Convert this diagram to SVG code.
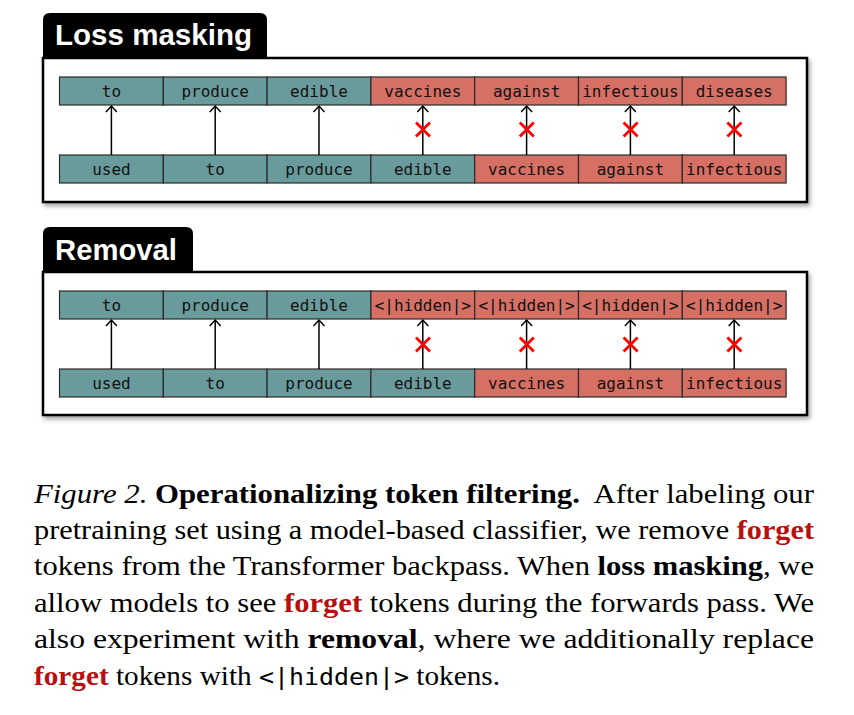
<svg xmlns="http://www.w3.org/2000/svg" width="854" height="715" viewBox="0 0 854 715">
<defs>
<style>
.panel{fill:#fff;stroke:#000;stroke-width:2.5}
.tab{fill:#000}
.tabt{font-family:"Liberation Sans",Arial,sans-serif;font-weight:bold;font-size:29px;fill:#fff}
.k{fill:#6A9B9C;stroke:#2a2a2a;stroke-width:1.2}
.f{fill:#D66F64;stroke:#2a2a2a;stroke-width:1.2}
.tt{font-family:"DejaVu Sans Mono",monospace;font-size:16px;fill:#111;text-anchor:middle}
.ar{stroke:#000;stroke-width:1.5;fill:none}
.x{stroke:#F00;stroke-width:2.8;fill:none}
.cap{font-family:"Liberation Serif","Times New Roman",serif;font-size:27px;fill:#000}
.b{font-weight:bold}
.r{font-weight:bold;fill:#B8100F}
.m{font-family:"DejaVu Sans Mono",monospace;font-size:23px}
</style>
<filter id="sh" x="-5%" y="-5%" width="110%" height="120%">
<feDropShadow dx="2" dy="3" stdDeviation="2" flood-color="#000" flood-opacity="0.35"/>
</filter>
<marker id="ah" viewBox="0 0 12 12" refX="9" refY="6" markerWidth="12" markerHeight="12" markerUnits="userSpaceOnUse" orient="auto">
<path d="M3,0.5 L9,6 L3,11.5" fill="none" stroke="#000" stroke-width="1.5"/>
</marker>
</defs>

<!-- Panel 1 -->
<g id="panel-loss-masking">
<rect class="panel" x="43" y="58" width="764" height="144" filter="url(#sh)"/>
<path class="tab" d="M43,58 V20 Q43,13 50,13 H260 Q267,13 267,20 V58 Z"/>
<text class="tabt" x="55" y="45" textLength="197" lengthAdjust="spacingAndGlyphs">Loss masking</text>
</g>

<g id="lm-top">
<g id="lm-t1"><rect class="k" x="59.5" y="77" width="103.8" height="28"/><text class="tt" x="111.4" y="96.5">to</text></g>
<g id="lm-t2"><rect class="k" x="163.3" y="77" width="103.8" height="28"/><text class="tt" x="215.2" y="96.5">produce</text></g>
<g id="lm-t3"><rect class="k" x="267.1" y="77" width="103.8" height="28"/><text class="tt" x="319" y="96.5">edible</text></g>
<g id="lm-t4"><rect class="f" x="370.9" y="77" width="103.8" height="28"/><text class="tt" x="422.8" y="96.5">vaccines</text></g>
<g id="lm-t5"><rect class="f" x="474.7" y="77" width="103.8" height="28"/><text class="tt" x="526.6" y="96.5">against</text></g>
<g id="lm-t6"><rect class="f" x="578.5" y="77" width="103.8" height="28"/><text class="tt" x="630.4" y="96.5">infectious</text></g>
<g id="lm-t7"><rect class="f" x="682.3" y="77" width="103.8" height="28"/><text class="tt" x="734.2" y="96.5">diseases</text></g>
</g>
<g id="lm-bottom">
<g id="lm-b1"><rect class="k" x="59.5" y="155" width="103.8" height="28"/><text class="tt" x="111.4" y="174.5">used</text></g>
<g id="lm-b2"><rect class="k" x="163.3" y="155" width="103.8" height="28"/><text class="tt" x="215.2" y="174.5">to</text></g>
<g id="lm-b3"><rect class="k" x="267.1" y="155" width="103.8" height="28"/><text class="tt" x="319" y="174.5">produce</text></g>
<g id="lm-b4"><rect class="k" x="370.9" y="155" width="103.8" height="28"/><text class="tt" x="422.8" y="174.5">edible</text></g>
<g id="lm-b5"><rect class="f" x="474.7" y="155" width="103.8" height="28"/><text class="tt" x="526.6" y="174.5">vaccines</text></g>
<g id="lm-b6"><rect class="f" x="578.5" y="155" width="103.8" height="28"/><text class="tt" x="630.4" y="174.5">against</text></g>
<g id="lm-b7"><rect class="f" x="682.3" y="155" width="103.8" height="28"/><text class="tt" x="734.2" y="174.5">infectious</text></g>
</g>

<!-- Panel 2 -->
<g id="panel-removal">
<rect class="panel" x="43" y="272" width="764" height="143" filter="url(#sh)"/>
<path class="tab" d="M43,272 V234 Q43,227 50,227 H186 Q193,227 193,234 V272 Z"/>
<text class="tabt" x="55" y="260" textLength="122" lengthAdjust="spacingAndGlyphs">Removal</text>
</g>

<g id="rm-top">
<g id="rm-t1"><rect class="k" x="59.5" y="291" width="103.8" height="28"/><text class="tt" x="111.4" y="310.5">to</text></g>
<g id="rm-t2"><rect class="k" x="163.3" y="291" width="103.8" height="28"/><text class="tt" x="215.2" y="310.5">produce</text></g>
<g id="rm-t3"><rect class="k" x="267.1" y="291" width="103.8" height="28"/><text class="tt" x="319" y="310.5">edible</text></g>
<g id="rm-t4"><rect class="f" x="370.9" y="291" width="103.8" height="28"/><text class="tt" x="422.8" y="310.5">&lt;|hidden|&gt;</text></g>
<g id="rm-t5"><rect class="f" x="474.7" y="291" width="103.8" height="28"/><text class="tt" x="526.6" y="310.5">&lt;|hidden|&gt;</text></g>
<g id="rm-t6"><rect class="f" x="578.5" y="291" width="103.8" height="28"/><text class="tt" x="630.4" y="310.5">&lt;|hidden|&gt;</text></g>
<g id="rm-t7"><rect class="f" x="682.3" y="291" width="103.8" height="28"/><text class="tt" x="734.2" y="310.5">&lt;|hidden|&gt;</text></g>
</g>
<g id="rm-bottom">
<g id="rm-b1"><rect class="k" x="59.5" y="369" width="103.8" height="28"/><text class="tt" x="111.4" y="388.5">used</text></g>
<g id="rm-b2"><rect class="k" x="163.3" y="369" width="103.8" height="28"/><text class="tt" x="215.2" y="388.5">to</text></g>
<g id="rm-b3"><rect class="k" x="267.1" y="369" width="103.8" height="28"/><text class="tt" x="319" y="388.5">produce</text></g>
<g id="rm-b4"><rect class="k" x="370.9" y="369" width="103.8" height="28"/><text class="tt" x="422.8" y="388.5">edible</text></g>
<g id="rm-b5"><rect class="f" x="474.7" y="369" width="103.8" height="28"/><text class="tt" x="526.6" y="388.5">vaccines</text></g>
<g id="rm-b6"><rect class="f" x="578.5" y="369" width="103.8" height="28"/><text class="tt" x="630.4" y="388.5">against</text></g>
<g id="rm-b7"><rect class="f" x="682.3" y="369" width="103.8" height="28"/><text class="tt" x="734.2" y="388.5">infectious</text></g>
</g>

<g id="connectors">
<line class="ar" x1="111.4" y1="155" x2="111.4" y2="106" marker-end="url(#ah)"/>
<line class="ar" x1="215.2" y1="155" x2="215.2" y2="106" marker-end="url(#ah)"/>
<line class="ar" x1="319" y1="155" x2="319" y2="106" marker-end="url(#ah)"/>
<line class="ar" x1="422.8" y1="155" x2="422.8" y2="106" marker-end="url(#ah)"/>
<line class="ar" x1="526.6" y1="155" x2="526.6" y2="106" marker-end="url(#ah)"/>
<line class="ar" x1="630.4" y1="155" x2="630.4" y2="106" marker-end="url(#ah)"/>
<line class="ar" x1="734.2" y1="155" x2="734.2" y2="106" marker-end="url(#ah)"/>
<line class="ar" x1="111.4" y1="369" x2="111.4" y2="320" marker-end="url(#ah)"/>
<line class="ar" x1="215.2" y1="369" x2="215.2" y2="320" marker-end="url(#ah)"/>
<line class="ar" x1="319" y1="369" x2="319" y2="320" marker-end="url(#ah)"/>
<line class="ar" x1="422.8" y1="369" x2="422.8" y2="320" marker-end="url(#ah)"/>
<line class="ar" x1="526.6" y1="369" x2="526.6" y2="320" marker-end="url(#ah)"/>
<line class="ar" x1="630.4" y1="369" x2="630.4" y2="320" marker-end="url(#ah)"/>
<line class="ar" x1="734.2" y1="369" x2="734.2" y2="320" marker-end="url(#ah)"/>
</g>
<g id="blocked">
<path class="x" d="M416,122.5 l14,14 M430,122.5 l-14,14"/>
<path class="x" d="M519.8,122.5 l14,14 M533.8,122.5 l-14,14"/>
<path class="x" d="M623.6,122.5 l14,14 M637.6,122.5 l-14,14"/>
<path class="x" d="M727.4,122.5 l14,14 M741.4,122.5 l-14,14"/>
<path class="x" d="M416,337.5 l14,14 M430,337.5 l-14,14"/>
<path class="x" d="M519.8,337.5 l14,14 M533.8,337.5 l-14,14"/>
<path class="x" d="M623.6,337.5 l14,14 M637.6,337.5 l-14,14"/>
<path class="x" d="M727.4,337.5 l14,14 M741.4,337.5 l-14,14"/>
</g>

<g id="caption" class="cap">
<text x="34" y="503" textLength="780" lengthAdjust="spacingAndGlyphs"><tspan font-style="italic">Figure 2.</tspan> <tspan class="b">Operationalizing token filtering.</tspan>&#160; After labeling our</text>
<text x="34" y="539" textLength="780" lengthAdjust="spacingAndGlyphs">pretraining set using a model-based classifier, we remove <tspan class="r">forget</tspan></text>
<text x="34" y="575" textLength="780" lengthAdjust="spacingAndGlyphs">tokens from the Transformer backpass. When <tspan class="b">loss masking</tspan>, we</text>
<text x="34" y="612" textLength="780" lengthAdjust="spacingAndGlyphs">allow models to see <tspan class="r">forget</tspan> tokens during the forwards pass. We</text>
<text x="34" y="648" textLength="780" lengthAdjust="spacingAndGlyphs">also experiment with <tspan class="b">removal</tspan>, where we additionally replace</text>
<text x="34" y="685" textLength="466" lengthAdjust="spacingAndGlyphs"><tspan class="r">forget</tspan> tokens with <tspan class="m">&lt;|hidden|&gt;</tspan> tokens.</text>
</g>
</svg>
